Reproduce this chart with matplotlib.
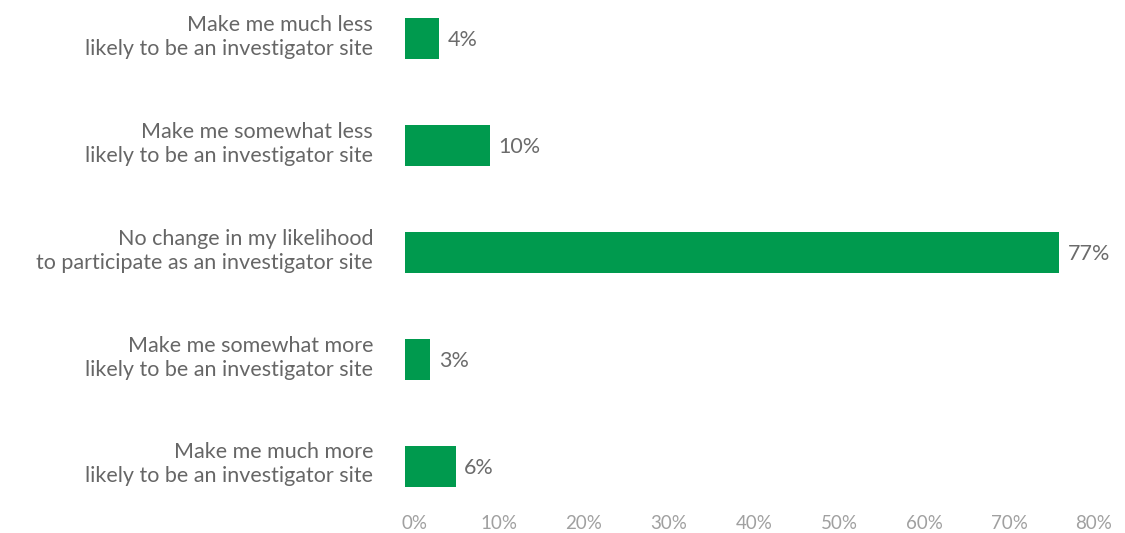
import matplotlib.pyplot as plt
import matplotlib.transforms as mtransforms

# survey answers, top to bottom
categories = [
    "Make me much less\nlikely to be an investigator site",
    "Make me somewhat less\nlikely to be an investigator site",
    "No change in my likelihood\nto participate as an investigator site",
    "Make me somewhat more\nlikely to be an investigator site",
    "Make me much more\nlikely to be an investigator site",
]
values = [4, 10, 77, 3, 6]
ticks = [0, 10, 20, 30, 40, 50, 60, 70, 80]
tick_labels = ["%d%%" % t for t in ticks]

plt.rcParams['font.family'] = ['Lato', 'DejaVu Sans']

fig = plt.figure(figsize=(11.25, 5.33), dpi=100)
ax = fig.add_axes([0.36, 0.0525, 0.6044, 0.9475])

ypos = list(range(len(values)))
ax.barh(ypos, values, height=0.383, color='#009a4e')

for y, v in zip(ypos, values):
    ax.annotate("%d%%" % v, (v, y), xytext=(6, -1), textcoords='offset points',
                va='center', ha='left', fontsize=15.5, color='#6b6b6b')

ax.set_xlim(0, 80)
ax.set_ylim(4.36, -0.36)
ax.set_xticks(ticks)
ax.set_xticklabels(tick_labels, fontsize=13.5, color='#a0a0a0')
ax.set_yticks(ypos)
ax.set_yticklabels(categories, fontsize=15.5, color='#666666', linespacing=1.25)
ax.tick_params(axis='x', length=0, pad=7)
ax.tick_params(axis='y', length=0, pad=23)

# nudge the percent ticks right and the answer labels up
shift_x = mtransforms.ScaledTranslation(9 / 100, 0, fig.dpi_scale_trans)
for lbl in ax.get_xticklabels():
    lbl.set_transform(lbl.get_transform() + shift_x)
shift_y = mtransforms.ScaledTranslation(0, 6 / 100, fig.dpi_scale_trans)
for lbl in ax.get_yticklabels():
    lbl.set_transform(lbl.get_transform() + shift_y)

for s in ax.spines.values():
    s.set_visible(False)

plt.savefig("out.png", dpi=100)
